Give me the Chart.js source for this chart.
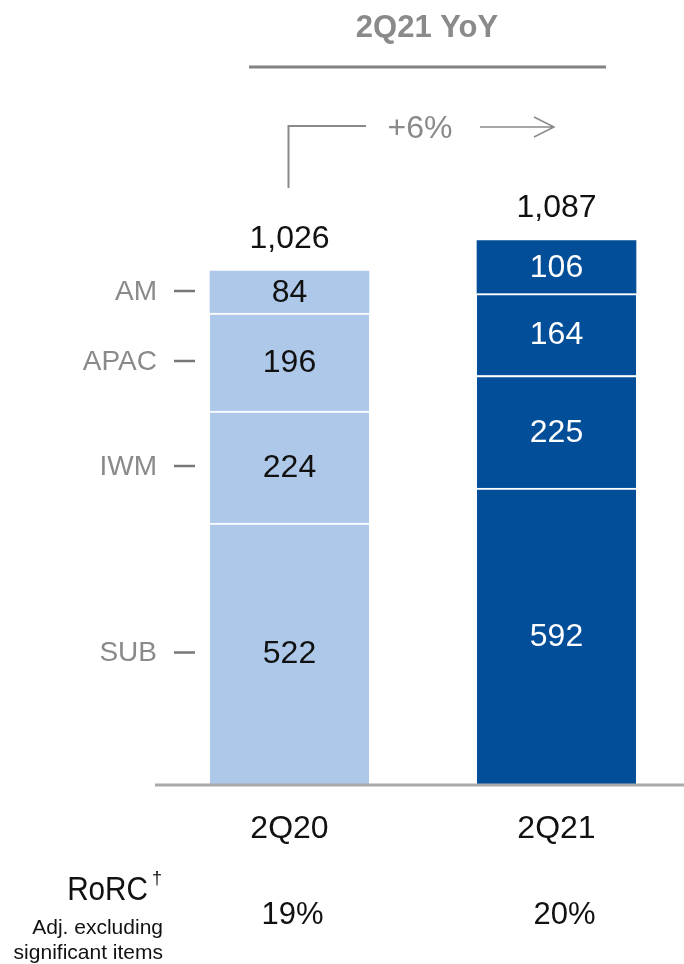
<!DOCTYPE html>
<html>
<head>
<meta charset="utf-8">
<script src="https://cdn.jsdelivr.net/npm/chart.js@4.4.1/dist/chart.umd.min.js"></script>
<style>
  html, body { margin: 0; padding: 0; background: #fff; overflow: hidden; }
  #wrap { width: 684px; height: 964px; overflow: hidden; }
</style>
</head>
<body>
<div id="wrap"><canvas id="rev" width="690" height="964"></canvas></div>
<script>
// values (revenue by business, $m)
const QUARTERS = ['2Q20', '2Q21'];
const SEGMENTS = ['SUB', 'IWM', 'APAC', 'AM'];
const SUB = [522, 592];
const IWM = [224, 225];
const APAC = [196, 164];
const AM = [84, 106];
const TOTALS = ['1,026', '1,087'];
const RORC = ['19%', '20%'];
const YOY_TITLE = '2Q21 YoY';
const YOY_CHANGE = '+6%';

const BAR_COLORS = ['#adc8e8', '#024e98'];
const VALUE_COLORS = ['#111111', '#ffffff'];
const GREY = '#8a8a8a';
const FONT = '"Liberation Sans", Arial, sans-serif';

function makeDataset(label, values, isTop) {
    return {
        label: label,
        data: values,
        backgroundColor: BAR_COLORS,
        borderColor: '#ffffff',
        borderWidth: isTop ? 0 : {top: 2, right: 0, bottom: 0, left: 0},
        borderSkipped: false,
        barThickness: 159
    };
}

var overlay = {
    id: 'overlay',
    afterDatasetsDraw: function (chart) {
        var ctx = chart.ctx;
        var area = chart.chartArea;
        ctx.save();
        ctx.textBaseline = 'middle';
        ctx.textAlign = 'center';

        // values inside each segment
        chart.data.datasets.forEach(function (ds, i) {
            var meta = chart.getDatasetMeta(i);
            meta.data.forEach(function (el, j) {
                var yc = (el.y + el.base) / 2;
                ctx.fillStyle = VALUE_COLORS[j];
                ctx.font = '32px ' + FONT;
                ctx.fillText(String(ds.data[j]), el.x, yc + 1);
            });
        });

        // totals above the stacks
        var topMeta = chart.getDatasetMeta(chart.data.datasets.length - 1);
        topMeta.data.forEach(function (el, j) {
            ctx.fillStyle = '#111111';
            ctx.font = '32px ' + FONT;
            ctx.fillText(TOTALS[j], el.x, el.y - 32);
        });

        // segment names on the left with small dashes
        var firstBar = chart.getDatasetMeta(0).data[0];
        var barLeft = firstBar.x - firstBar.width / 2;
        chart.data.datasets.forEach(function (ds, i) {
            var el = chart.getDatasetMeta(i).data[0];
            var yc = (el.y + el.base) / 2;
            ctx.fillStyle = GREY;
            ctx.textAlign = 'right';
            ctx.font = '28px ' + FONT;
            ctx.fillText(SEGMENTS[i], barLeft - 53, yc);
            ctx.strokeStyle = '#777777';
            ctx.lineWidth = 2.5;
            ctx.beginPath();
            ctx.moveTo(barLeft - 36, yc - 1);
            ctx.lineTo(barLeft - 15, yc - 1);
            ctx.stroke();
        });

        // baseline
        ctx.strokeStyle = '#aaaaaa';
        ctx.lineWidth = 3;
        ctx.beginPath();
        ctx.moveTo(area.left - 1, area.bottom + 1);
        ctx.lineTo(chart.width, area.bottom + 1);
        ctx.stroke();

        // quarter labels and RoRC row
        ctx.textAlign = 'center';
        ctx.fillStyle = '#111111';
        topMeta.data.forEach(function (el, j) {
            ctx.font = '32px ' + FONT;
            ctx.fillText(QUARTERS[j], el.x, area.bottom + 45);
            ctx.font = '31px ' + FONT;
            ctx.fillText(RORC[j], el.x + (j ? 8 : 3), area.bottom + 131);
        });

        ctx.textAlign = 'right';
        ctx.save();
        ctx.scale(0.9, 1);
        ctx.font = '33px ' + FONT;
        ctx.fillText('RoRC', 148 / 0.9, area.bottom + 107);
        ctx.restore();
        ctx.font = '18px ' + FONT;
        ctx.fillText('\u2020', 162, area.bottom + 95);
        ctx.font = '21px ' + FONT;
        ctx.fillText('Adj. excluding', 163, area.bottom + 144);
        ctx.fillText('significant items', 163, area.bottom + 169);

        // YoY header
        var x0 = topMeta.data[0].x;
        ctx.textAlign = 'center';
        ctx.fillStyle = GREY;
        ctx.font = 'bold 31px ' + FONT;
        ctx.fillText(YOY_TITLE, 427, 28);
        ctx.strokeStyle = '#828282';
        ctx.lineWidth = 3;
        ctx.beginPath();
        ctx.moveTo(249, 67);
        ctx.lineTo(606, 67);
        ctx.stroke();

        // bracket + change + arrow
        ctx.strokeStyle = '#8a8a8a';
        ctx.lineWidth = 2;
        ctx.beginPath();
        ctx.moveTo(x0 - 1, 188);
        ctx.lineTo(x0 - 1, 126);
        ctx.lineTo(366, 126);
        ctx.stroke();
        ctx.font = '32px ' + FONT;
        ctx.fillText(YOY_CHANGE, 420, 129);
        ctx.lineWidth = 1.5;
        ctx.beginPath();
        ctx.moveTo(480, 127);
        ctx.lineTo(554, 127);
        ctx.moveTo(534, 117);
        ctx.lineTo(554, 127);
        ctx.lineTo(534, 137);
        ctx.stroke();

        ctx.restore();
    }
};

new Chart(document.getElementById('rev'), {
    type: 'bar',
    data: {
        labels: QUARTERS,
        datasets: [
            makeDataset('SUB', SUB, false),
            makeDataset('IWM', IWM, false),
            makeDataset('APAC', APAC, false),
            makeDataset('AM', AM, true)
        ]
    },
    options: {
        responsive: false,
        animation: false,
        layout: {padding: {left: 156, right: 0, top: 0, bottom: 180}},
        plugins: {legend: {display: false}, tooltip: {enabled: false}},
        scales: {
            x: {stacked: true, display: false},
            y: {stacked: true, display: false, min: 0, max: 1568}
        }
    },
    plugins: [overlay]
});
</script>
</body>
</html>
